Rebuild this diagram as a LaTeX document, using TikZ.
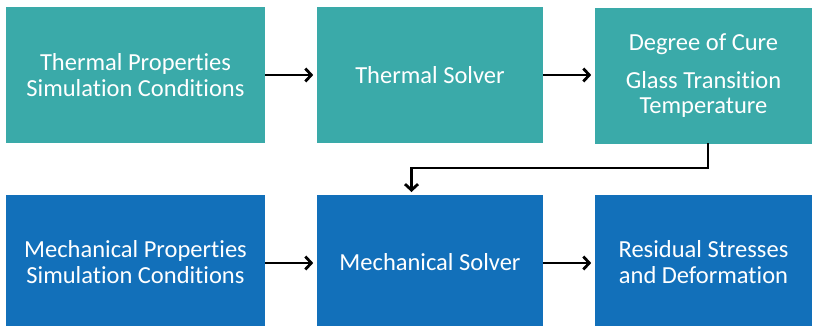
\documentclass[tikz,border=0pt]{standalone}
\usepackage{fontspec}
\setmainfont[Ligatures={NoCommon}]{Carlito}
\usetikzlibrary{arrows.meta}
\definecolor{tealbox}{HTML}{3AAAA9}
\definecolor{bluebox}{HTML}{1270BA}
\begin{document}
\begin{tikzpicture}[x=1pt,y=-1pt,
  boxbase/.style={draw=none,minimum height=136pt,inner sep=0pt,text=white,align=center,font=\fontsize{24.5}{25.5}\selectfont},
  tbox/.style={boxbase,fill=tealbox},
  bbox/.style={boxbase,fill=bluebox,minimum height=134pt},
  conn/.style={draw=black,line width=2.8pt,-{Straight Barb[length=6pt,width=13pt,line width=2.8pt]}}]
\useasboundingbox (0,0) rectangle (815,325);
\begin{scope}
\clip (0,0) rectangle (815,325);
\node[tbox,minimum width=259pt] (tp) at (135.5,75) {Thermal Properties\\Simulation Conditions};
\node[tbox,minimum width=226pt] (ts) at (430,75) {Thermal Solver};
\node[tbox,minimum width=217pt] (dc) at (703.5,76) {Degree of Cure\\[12pt]Glass Transition\\Temperature};
\node[bbox,minimum width=259pt] (mp) at (135.5,262) {Mechanical Properties\\Simulation Conditions};
\node[bbox,minimum width=226pt] (ms) at (430,262) {Mechanical Solver};
\node[bbox,minimum width=217pt] (rs) at (703.5,262) {Residual Stresses\\and Deformation};
\end{scope}
\draw[conn] (tp.east) -- ++(48,0);
\draw[conn] (ts.east) -- ++(48,0);
\draw[conn] (mp.east|-0,263) -- ++(48,0);
\draw[conn] (ms.east|-0,263) -- ++(48,0);
\coordinate (bend) at (411.5,168);
\draw[conn] (708,143) |- (bend) -- (411.5,192);
\end{tikzpicture}
\end{document}
